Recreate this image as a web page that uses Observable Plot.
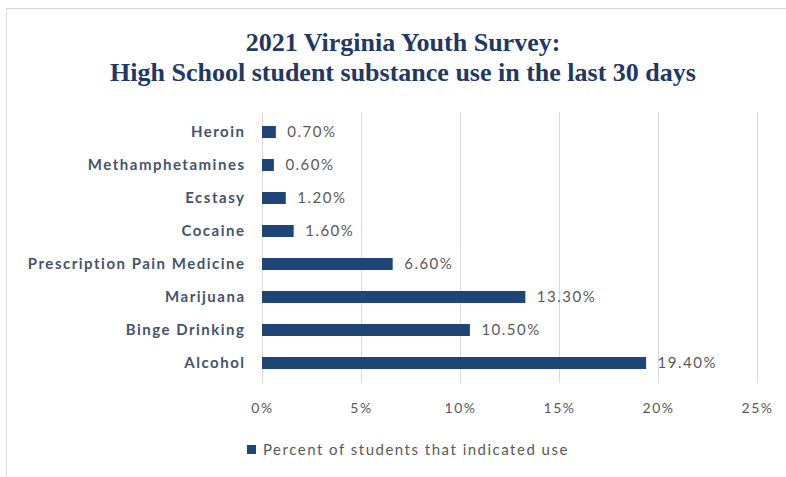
<!DOCTYPE html>
<html><head><meta charset="utf-8">
<script src="https://cdn.jsdelivr.net/npm/d3@7"></script>
<script src="https://cdn.jsdelivr.net/npm/@observablehq/plot@0.6"></script>
<style>
body{margin:0;background:#fff;}
#wrap{position:relative;width:786px;height:477px;overflow:hidden;background:#fff;}
#frame{position:absolute;left:6px;top:8px;width:790px;height:480px;border:1px solid #d9d9d9;box-sizing:border-box;}
#title{position:absolute;left:0;top:28px;width:806px;text-align:center;font-family:"Liberation Serif",serif;font-weight:bold;font-size:26px;line-height:30px;color:#1f3864;}
#chart{position:absolute;left:0;top:100px;}
#chart text{letter-spacing:1.5px;}
#legend{position:absolute;left:247px;top:440px;font-family:Lato,sans-serif;font-size:15px;letter-spacing:1.5px;color:#595959;display:flex;align-items:center;}
#legend span.sw{display:inline-block;width:9px;height:9px;background:#1f4577;margin-right:7px;}
</style></head>
<body><div id="wrap"><div id="frame"></div>
<div id="title">2021 Virginia Youth Survey:<br>High School student substance use in the last 30 days</div>
<div id="chart"></div>
<div id="legend"><span class="sw"></span>Percent of students that indicated use</div>
</div>
<script>
const categories = ["Heroin","Methamphetamines","Ecstasy","Cocaine","Prescription Pain Medicine","Marijuana","Binge Drinking","Alcohol"];
const values = [0.7,0.6,1.2,1.6,6.6,13.3,10.5,19.4];
const xTicks = [0,5,10,15,20,25];
const data = categories.map((c,i)=>({category:c,value:values[i]}));
const chart = Plot.plot({
  width:786, height:325,
  marginLeft:262, marginRight:29, marginTop:12, marginBottom:42,
  style:{fontFamily:"Lato, sans-serif", background:"transparent"},
  x:{domain:[0,25], ticks:xTicks, tickFormat:d=>d+"%", label:null},
  y:{domain:categories, paddingInner:0.65, paddingOuter:0.325, label:null},
  marks:[
    Plot.ruleX(xTicks,{stroke:"#d9d9d9",strokeWidth:1}),
    Plot.axisX({ticks:xTicks, tickFormat:d=>d+"%", tickSize:0, tickPadding:20, fontSize:14, fill:"#595959", label:null}),
    Plot.axisY({tickSize:0, tickPadding:17, fontSize:15, fontWeight:"bold", fill:"#44546a", label:null}),
    Plot.barX(data,{y:"category",x:"value",fill:"#1f4577"}),
    Plot.text(data,{y:"category",x:"value",text:d=>d.value.toFixed(2)+"%",textAnchor:"start",dx:11,fontSize:15,fill:"#595959"})
  ]
});
document.getElementById("chart").appendChild(chart);
</script></body></html>
